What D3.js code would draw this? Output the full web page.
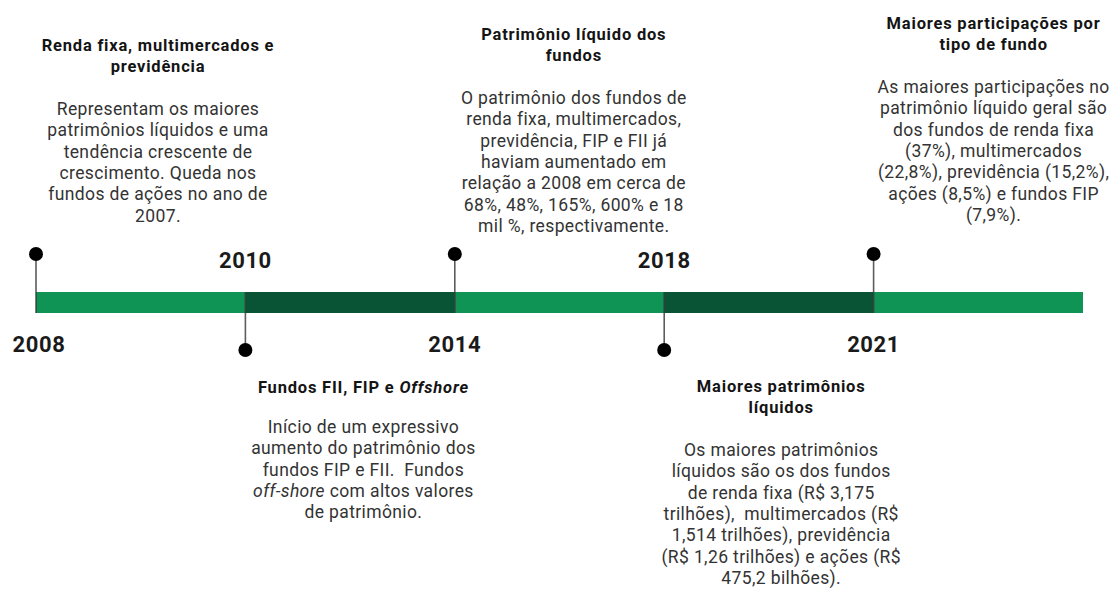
<!DOCTYPE html>
<html>
<head>
<meta charset="utf-8">
<script src="https://cdn.jsdelivr.net/npm/d3@7"></script>
<style>
  html, body { margin: 0; padding: 0; background: #fff; }
  svg { display: block; }
</style>
</head>
<body>
<svg id="chart" width="1113" height="590"></svg>
<script>
// ---------------- DATA ----------------
const years = ["2008", "2010", "2014", "2018", "2021"];
const sides = ["above", "below", "above", "below", "above"];

const titles = [
  ["Renda fixa, multimercados e", "previdência"],
  ["Fundos FII, FIP e *Offshore*"],
  ["Patrimônio líquido dos", "fundos"],
  ["Maiores patrimônios", "líquidos"],
  ["Maiores participações por", "tipo de fundo"]
];

const bodies = [
  ["Representam os maiores",
   "patrimônios líquidos e uma",
   "tendência crescente de",
   "crescimento. Queda nos",
   "fundos de ações no ano de",
   "2007."],
  ["Início de um expressivo",
   "aumento do patrimônio dos",
   "fundos FIP e FII.  Fundos",
   "*off-shore* com altos valores",
   "de patrimônio."],
  ["O patrimônio dos fundos de",
   "renda fixa, multimercados,",
   "previdência, FIP e FII já",
   "haviam aumentado em",
   "relação a 2008 em cerca de",
   "68%, 48%, 165%, 600% e 18",
   "mil %, respectivamente."],
  ["Os maiores patrimônios",
   "líquidos são os dos fundos",
   "de renda fixa (R$ 3,175",
   "trilhões),  multimercados (R$",
   "1,514 trilhões), previdência",
   "(R$ 1,26 trilhões) e ações (R$",
   "475,2 bilhões)."],
  ["As maiores participações no",
   "patrimônio líquido geral são",
   "dos fundos de renda fixa",
   "(37%), multimercados",
   "(22,8%), previdência (15,2%),",
   "ações (8,5%) e fundos FIP",
   "(7,9%)."]
];

// ---------------- LAYOUT ----------------
const W = 1113, H = 590;
const barTop = 292, barBottom = 313;
const upperDotY = 254, lowerDotY = 350;
const dotR = 7;
const lightGreen = "#109456", darkGreen = "#085434";
// annotation block placement (title first baseline, x-offset from marker, body gap)
const blockLayout = [
  { top: 51,  dx: 122, gap: 43 },
  { top: 393, dx: 118, gap: 40 },
  { top: 40,  dx: 119, gap: 43 },
  { top: 392, dx: 117, gap: 43 },
  { top: 29,  dx: 120, gap: 43 }
];
const titleLH = 21, bodyLH = 21.3;

const svg = d3.select("#chart");

const x = d3.scaleLinear()
  .domain([0, years.length])
  .range([36, 1083]);

// bar segments
svg.append("g").selectAll("rect")
  .data(d3.range(years.length))
  .join("rect")
  .attr("x", i => x(i))
  .attr("y", barTop)
  .attr("width", i => x(i + 1) - x(i))
  .attr("height", barBottom - barTop)
  .attr("fill", i => i % 2 === 0 ? lightGreen : darkGreen);

// markers
const markers = svg.append("g").selectAll("g")
  .data(years.map((y, i) => ({ y, i, side: sides[i] })))
  .join("g");

markers.append("line")
  .attr("x1", d => x(d.i)).attr("x2", d => x(d.i))
  .attr("y1", d => d.side === "above" ? upperDotY : barTop)
  .attr("y2", d => d.side === "above" ? barBottom : lowerDotY)
  .attr("stroke", "#333")
  .attr("stroke-opacity", 0.8)
  .attr("stroke-width", 1.6);

markers.append("circle")
  .attr("cx", d => x(d.i))
  .attr("cy", d => d.side === "above" ? upperDotY : lowerDotY)
  .attr("r", dotR)
  .attr("fill", "#000");

// year labels (opposite side of marker)
markers.append("text")
  .attr("x", d => x(d.i) + (d.i === 0 ? 3 : 0))
  .attr("y", d => d.side === "above" ? 352 : 268)
  .attr("text-anchor", "middle")
  .attr("font-family", "Roboto, sans-serif")
  .attr("font-weight", 700)
  .attr("font-size", 22)
  .attr("letter-spacing", 0.6)
  .attr("fill", "#1a1a1a")
  .text(d => d.y);

// helper: render a line with *italic* segments
function fillLine(sel, str) {
  const parts = str.split("*");
  parts.forEach((p, k) => {
    if (!p) return;
    sel.append("tspan")
      .attr("font-style", k % 2 === 1 ? "italic" : null)
      .text(p);
  });
}

// annotation blocks
years.forEach((yr, i) => {
  const L = blockLayout[i];
  const cx = x(i) + L.dx;
  const g = svg.append("g");
  titles[i].forEach((t, k) => {
    const tx = g.append("text")
      .attr("x", cx)
      .attr("y", L.top + k * titleLH)
      .attr("text-anchor", "middle")
      .attr("font-family", "Roboto, sans-serif")
      .attr("font-weight", 700)
      .attr("font-size", 16.5)
      .attr("letter-spacing", 0.8)
      .attr("fill", "#141414")
      .style("white-space", "pre");
    fillLine(tx, t);
  });
  const bodyTop = L.top + (titles[i].length - 1) * titleLH + L.gap;
  bodies[i].forEach((t, k) => {
    const tx = g.append("text")
      .attr("x", cx)
      .attr("y", bodyTop + k * bodyLH)
      .attr("text-anchor", "middle")
      .attr("font-family", "Roboto, sans-serif")
      .attr("font-weight", 400)
      .attr("font-size", 17.5)
      .attr("letter-spacing", 0.37)
      .attr("fill", "#333")
      .style("white-space", "pre");
    fillLine(tx, t);
  });
});
</script>
</body>
</html>
